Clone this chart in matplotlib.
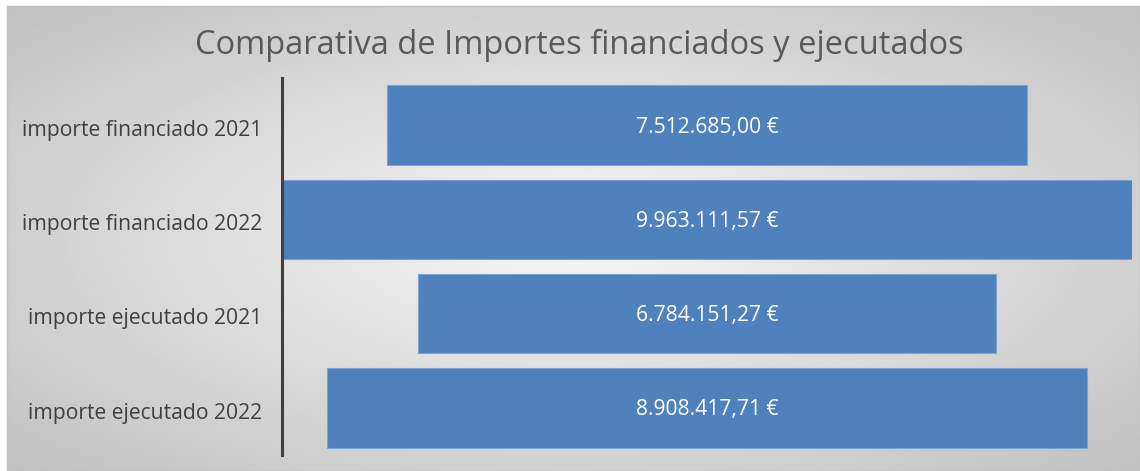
import numpy as np
import matplotlib.pyplot as plt

categories = ["importe financiado 2021", "importe financiado 2022",
              "importe ejecutado 2021", "importe ejecutado 2022"]
values = [7512685.00, 9963111.57, 6784151.27, 8908417.71]
value_labels = ["7.512.685,00 €", "9.963.111,57 €", "6.784.151,27 €", "8.908.417,71 €"]
title = "Comparativa de Importes financiados y ejecutados"

plt.rcParams['font.family'] = ['Open Sans', 'DejaVu Sans']

W, H = 1140, 471
fig = plt.figure(figsize=(W / 100, H / 100), dpi=100)
fig.patch.set_facecolor("white")

# background panel with radial gradient
bg = fig.add_axes([7 / W, 0, (W - 7) / W, (H - 6) / H])
nx, ny = 400, 200
xx, yy = np.meshgrid(np.linspace(-1, 1, nx), np.linspace(-1, 1, ny))
r = np.sqrt(xx ** 2 + yy ** 2) / np.sqrt(2)
shade = 0.965 - 0.21 * r
bg.imshow(shade, cmap="gray", vmin=0, vmax=1, aspect="auto",
          extent=[0, 1, 0, 1], interpolation="bilinear")
bg.set_xlim(0, 1)
bg.set_ylim(0, 1)
bg.set_xticks([])
bg.set_yticks([])
for s in bg.spines.values():
    s.set_color("#c0c0c0")
    s.set_linewidth(1)

# funnel-style bar chart
ax = fig.add_axes([282 / W, 1 - 455 / H, 850 / W, 377 / H])
ax.patch.set_alpha(0)
y = np.arange(len(categories))
vals = np.array(values)
ax.barh(y, vals, left=-vals / 2, height=0.845, color="#4f81bd",
        edgecolor="#7fa2d2", linewidth=0.8)
for yi, lab in zip(y, value_labels):
    ax.text(0, yi + 0.02, lab, ha="center", va="center", color="white", fontsize=15.2)

vmax = vals.max()
ax.set_xlim(-vmax / 2, vmax / 2)
ax.set_ylim(len(categories) - 0.5, -0.5)
ax.set_yticks(y + 0.03)
ax.set_yticklabels(categories, fontsize=15.2, color="#404040")
ax.tick_params(axis="y", length=0, pad=14)
ax.set_xticks([])
for side in ["top", "right", "bottom"]:
    ax.spines[side].set_visible(False)
ax.spines["left"].set_color("#404040")
ax.spines["left"].set_linewidth(2.2)

fig.text(579 / W, 1 - 45 / H, title, ha="center", va="center",
         fontsize=23.5, color="#595959")

fig.savefig("out.png", dpi=100)
